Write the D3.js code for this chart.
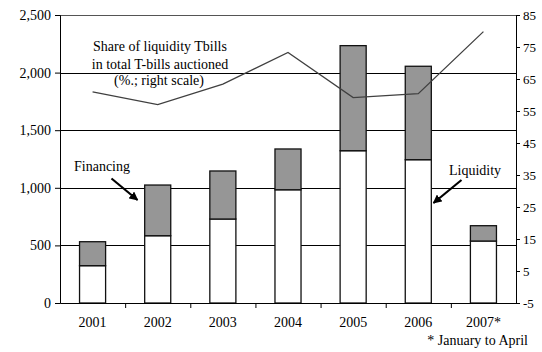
<!DOCTYPE html>
<html>
<head>
<meta charset="utf-8">
<script src="https://cdn.jsdelivr.net/npm/d3@7"></script>
<style>
  html, body { margin: 0; padding: 0; background: #fff; }
  svg { display: block; font-family: "Liberation Serif", "Times New Roman", serif; }
</style>
</head>
<body>
<svg id="chart" width="542" height="352"></svg>
<script>
// T-bill issuance by purpose (left scale) and liquidity share (right scale)
const years = ["2001", "2002", "2003", "2004", "2005", "2006", "2007*"];
const liquidity = [324, 584, 729, 983, 1322, 1244, 538];
const financing = [208, 440, 417, 354, 912, 811, 133];
const liquidityShare = [61, 57, 63.4, 73.3, 59.2, 60.4, 79.8];
const leftTicks = [0, 500, 1000, 1500, 2000, 2500];
const rightTicks = [-5, 5, 15, 25, 35, 45, 55, 65, 75, 85];

const FONT = "'Liberation Serif', 'Times New Roman', serif";
const svg = d3.select("#chart");
const plotLeft = 60, plotRight = 516, plotTop = 15, plotBottom = 303;

const x = d3.scaleBand().domain(years).range([plotLeft, plotRight]).padding(0);
const y = d3.scaleLinear().domain([0, 2500]).range([plotBottom, plotTop]);
const y2 = d3.scaleLinear().domain([-5, 85]).range([plotBottom, plotTop]);
const barW = x.bandwidth() * 0.4;

// gridlines
svg.append("g").selectAll("line")
  .data(leftTicks.filter(d => d > 0 && d < 2500))
  .join("line")
  .attr("x1", plotLeft).attr("x2", plotRight)
  .attr("y1", d => Math.round(y(d)) + 0.5).attr("y2", d => Math.round(y(d)) + 0.5)
  .attr("stroke", "#000").attr("stroke-width", 1);

// top border of plot area
svg.append("line")
  .attr("x1", plotLeft).attr("x2", plotRight)
  .attr("y1", plotTop + 0.5).attr("y2", plotTop + 0.5)
  .attr("stroke", "#555").attr("stroke-width", 1);

// stacked bars
const bars = svg.append("g");
years.forEach((yr, i) => {
  const bx = x(yr) + (x.bandwidth() - barW) / 2;
  bars.append("rect")
    .attr("x", bx).attr("width", barW)
    .attr("y", y(liquidity[i])).attr("height", y(0) - y(liquidity[i]))
    .attr("fill", "#fff").attr("stroke", "#111").attr("stroke-width", 1.3);
  bars.append("rect")
    .attr("x", bx).attr("width", barW)
    .attr("y", y(liquidity[i] + financing[i])).attr("height", y(liquidity[i]) - y(liquidity[i] + financing[i]))
    .attr("fill", "#969696").attr("stroke", "#111").attr("stroke-width", 1.3);
});

// share line on the right scale
const line = d3.line()
  .x((d, i) => x(years[i]) + x.bandwidth() / 2)
  .y(d => y2(d));
svg.append("path")
  .datum(liquidityShare)
  .attr("d", line)
  .attr("fill", "none")
  .attr("stroke", "#404040")
  .attr("stroke-width", 1.3);

// axes
const axisFont = size => g => g.selectAll("text")
  .attr("font-family", FONT)
  .attr("font-size", size).attr("fill", "#000");

const yAxis = svg.append("g")
  .attr("transform", `translate(${plotLeft},0)`)
  .call(d3.axisLeft(y).tickValues(leftTicks).tickFormat(d3.format(",")).tickSize(5).tickPadding(4));
yAxis.call(axisFont(14));
yAxis.select(".domain").attr("stroke", "#000");

const y2Axis = svg.append("g")
  .attr("transform", `translate(${plotRight},0)`)
  .call(d3.axisRight(y2).tickValues(rightTicks).tickFormat(d => String(d)).tickSize(4).tickPadding(3));
y2Axis.call(axisFont(13));
y2Axis.select(".domain").attr("stroke", "#000");

const xAxis = svg.append("g")
  .attr("transform", `translate(0,${plotBottom})`)
  .call(d3.axisBottom(x).tickSize(0).tickPadding(14));
xAxis.call(axisFont(14));
xAxis.select(".domain").attr("stroke", "#000");
// ticks at category boundaries
xAxis.selectAll(".boundary")
  .data(years.slice(1))
  .join("line")
  .attr("class", "boundary")
  .attr("x1", d => x(d) + 0.5).attr("x2", d => x(d) + 0.5)
  .attr("y1", 0).attr("y2", 5)
  .attr("stroke", "#000");

// annotations
const note = svg.append("g").attr("font-size", 14).attr("font-family", FONT).attr("fill", "#000");
note.append("text").attr("x", 160).attr("y", 51).attr("text-anchor", "middle").text("Share of liquidity Tbills");
note.append("text").attr("x", 160).attr("y", 69).attr("text-anchor", "middle").text("in total T-bills auctioned");
note.append("text").attr("x", 159).attr("y", 85).attr("text-anchor", "middle").text("(%.; right scale)");
note.append("text").attr("x", 74).attr("y", 171).text("Financing");
note.append("text").attr("x", 449).attr("y", 175).text("Liquidity");
note.append("text").attr("x", 528).attr("y", 345).attr("text-anchor", "end").text("* January to April");

// arrows
svg.append("defs").append("marker")
  .attr("id", "head").attr("viewBox", "0 0 10 10")
  .attr("refX", 9).attr("refY", 5)
  .attr("markerWidth", 4).attr("markerHeight", 4)
  .attr("orient", "auto")
  .append("path").attr("d", "M0,0L10,5L0,10z").attr("fill", "#000");

const arrows = [
  [111.5, 178.5, 137.5, 200],
  [461.5, 180, 433.5, 203]
];
svg.append("g").selectAll("line").data(arrows).join("line")
  .attr("x1", d => d[0]).attr("y1", d => d[1])
  .attr("x2", d => d[2]).attr("y2", d => d[3])
  .attr("stroke", "#000").attr("stroke-width", 2.2)
  .attr("marker-end", "url(#head)");
</script>
</body>
</html>
